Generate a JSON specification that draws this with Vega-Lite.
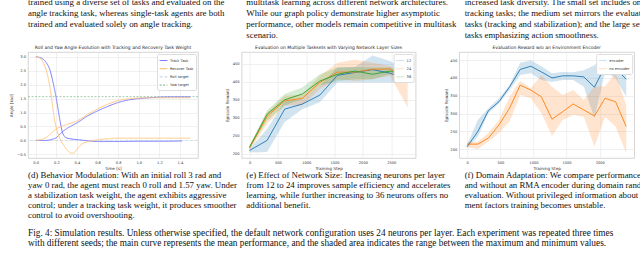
{
  "$schema": "https://vega.github.io/schema/vega-lite/v6.json",
  "background": "white",
  "padding": 0,
  "bounds": "full",
  "align": "none",
  "spacing": 0,
  "config": {
    "view": {"stroke": null},
    "axis": {"domain": false, "ticks": false, "grid": true, "gridColor": "#e6e6e6", "gridWidth": 0.6, "labelFont": "DejaVu Sans", "labelFontSize": 3.6, "labelColor": "#333333", "titleFont": "DejaVu Sans", "titleFontSize": 4.2, "titleFontWeight": "normal", "titleColor": "#333333", "labelPadding": 2.5, "titlePadding": 2, "labelFlush": false, "labelOverlap": false},
    "axisY": {"minExtent": 27, "maxExtent": 27, "titleBaseline": "middle"},
    "title": {"font": "DejaVu Sans", "fontSize": 4.5, "fontWeight": "normal", "color": "#262626", "offset": 2.5},
    "legend": {"orient": "top-right", "offset": 2, "labelFont": "DejaVu Sans", "labelFontSize": 3.6, "labelColor": "#333333", "symbolType": "stroke", "symbolSize": 60, "symbolStrokeWidth": 1.2, "padding": 2, "rowPadding": 1.2, "labelOffset": 2, "fillColor": "white", "strokeColor": "#dddddd", "cornerRadius": 1.5}
  },
  "datasets": {
    "top": [
      {"col": "a", "line": 0, "text": "trained using a diverse set of tasks and evaluated on the"},
      {"col": "a", "line": 1, "text": "angle tracking task, whereas single-task agents are both"},
      {"col": "a", "line": 2, "text": "trained and evaluated solely on angle tracking."},
      {"col": "b", "line": 0, "text": "multitask learning across different network architectures."},
      {"col": "b", "line": 1, "text": "While our graph policy demonstrate higher asymptotic"},
      {"col": "b", "line": 2, "text": "performance, other models remain competitive in multitask"},
      {"col": "b", "line": 3, "text": "scenario."},
      {"col": "c", "line": 0, "text": "increased task diversity. The small set includes only"},
      {"col": "c", "line": 1, "text": "tracking tasks; the medium set mirrors the evaluation"},
      {"col": "c", "line": 2, "text": "tasks (tracking and stabilization); and the large set adds"},
      {"col": "c", "line": 3, "text": "tasks emphasizing action smoothness."}
    ],
    "cap": [
      {"col": "a", "line": 0, "text": "(d) Behavior Modulation: With an initial roll 3 rad and"},
      {"col": "a", "line": 1, "text": "yaw 0 rad, the agent must reach 0 roll and 1.57 yaw. Under"},
      {"col": "a", "line": 2, "text": "a stabilization task weight, the agent exhibits aggressive"},
      {"col": "a", "line": 3, "text": "control; under a tracking task weight, it produces smoother"},
      {"col": "a", "line": 4, "text": "control to avoid overshooting."},
      {"col": "b", "line": 0, "text": "(e) Effect of Network Size: Increasing neurons per layer"},
      {"col": "b", "line": 1, "text": "from 12 to 24 improves sample efficiency and accelerates"},
      {"col": "b", "line": 2, "text": "learning, while further increasing to 36 neurons offers no"},
      {"col": "b", "line": 3, "text": "additional benefit."},
      {"col": "c", "line": 0, "text": "(f) Domain Adaptation: We compare performance with"},
      {"col": "c", "line": 1, "text": "and without an RMA encoder during domain randomized"},
      {"col": "c", "line": 2, "text": "evaluation. Without privileged information about environ-"},
      {"col": "c", "line": 3, "text": "ment factors training becomes unstable."}
    ],
    "fig": [
      {"col": "a", "line": 0, "text": "Fig. 4: Simulation results. Unless otherwise specified, the default network configuration uses 24 neurons per layer. Each experiment was repeated three times"},
      {"col": "a", "line": 1, "text": "with different seeds; the main curve represents the mean performance, and the shaded area indicates the range between the maximum and minimum values."}
    ],
    "dt": [
      {"s": "Roll target", "v": 0},
      {"s": "Yaw target", "v": 1.57}
    ],
    "d": [
      {"s": "Track Task", "a": "roll", "t": 0, "v": 3.0},
      {"s": "Track Task", "a": "roll", "t": 0.05, "v": 2.96},
      {"s": "Track Task", "a": "roll", "t": 0.1, "v": 2.8},
      {"s": "Track Task", "a": "roll", "t": 0.14, "v": 2.5},
      {"s": "Track Task", "a": "roll", "t": 0.17, "v": 2.05},
      {"s": "Track Task", "a": "roll", "t": 0.2, "v": 1.5},
      {"s": "Track Task", "a": "roll", "t": 0.22, "v": 1.05},
      {"s": "Track Task", "a": "roll", "t": 0.24, "v": 0.62},
      {"s": "Track Task", "a": "roll", "t": 0.26, "v": 0.28},
      {"s": "Track Task", "a": "roll", "t": 0.28, "v": 0.14},
      {"s": "Track Task", "a": "roll", "t": 0.3, "v": 0.09},
      {"s": "Track Task", "a": "roll", "t": 0.35, "v": 0.05},
      {"s": "Track Task", "a": "roll", "t": 0.4, "v": 0.03},
      {"s": "Track Task", "a": "roll", "t": 0.5, "v": -0.01},
      {"s": "Track Task", "a": "roll", "t": 0.6, "v": -0.04},
      {"s": "Track Task", "a": "roll", "t": 0.8, "v": -0.04},
      {"s": "Track Task", "a": "roll", "t": 1.0, "v": -0.03},
      {"s": "Track Task", "a": "roll", "t": 1.2, "v": -0.03},
      {"s": "Track Task", "a": "roll", "t": 1.42, "v": -0.02},
      {"s": "Track Task", "a": "yaw", "t": 0, "v": 0.0},
      {"s": "Track Task", "a": "yaw", "t": 0.1, "v": 0.0},
      {"s": "Track Task", "a": "yaw", "t": 0.15, "v": 0.03},
      {"s": "Track Task", "a": "yaw", "t": 0.2, "v": 0.1},
      {"s": "Track Task", "a": "yaw", "t": 0.25, "v": 0.28},
      {"s": "Track Task", "a": "yaw", "t": 0.3, "v": 0.42},
      {"s": "Track Task", "a": "yaw", "t": 0.35, "v": 0.53},
      {"s": "Track Task", "a": "yaw", "t": 0.4, "v": 0.63},
      {"s": "Track Task", "a": "yaw", "t": 0.5, "v": 0.87},
      {"s": "Track Task", "a": "yaw", "t": 0.6, "v": 1.06},
      {"s": "Track Task", "a": "yaw", "t": 0.7, "v": 1.22},
      {"s": "Track Task", "a": "yaw", "t": 0.8, "v": 1.36},
      {"s": "Track Task", "a": "yaw", "t": 0.9, "v": 1.45},
      {"s": "Track Task", "a": "yaw", "t": 1.0, "v": 1.5},
      {"s": "Track Task", "a": "yaw", "t": 1.1, "v": 1.53},
      {"s": "Track Task", "a": "yaw", "t": 1.2, "v": 1.55},
      {"s": "Track Task", "a": "yaw", "t": 1.35, "v": 1.56},
      {"s": "Track Task", "a": "yaw", "t": 1.5, "v": 1.56},
      {"s": "Recover Task", "a": "roll", "t": 0, "v": 3.0},
      {"s": "Recover Task", "a": "roll", "t": 0.05, "v": 2.92},
      {"s": "Recover Task", "a": "roll", "t": 0.09, "v": 2.65},
      {"s": "Recover Task", "a": "roll", "t": 0.12, "v": 2.25},
      {"s": "Recover Task", "a": "roll", "t": 0.14, "v": 1.85},
      {"s": "Recover Task", "a": "roll", "t": 0.16, "v": 1.35},
      {"s": "Recover Task", "a": "roll", "t": 0.18, "v": 0.8},
      {"s": "Recover Task", "a": "roll", "t": 0.2, "v": 0.45},
      {"s": "Recover Task", "a": "roll", "t": 0.22, "v": 0.2},
      {"s": "Recover Task", "a": "roll", "t": 0.25, "v": -0.05},
      {"s": "Recover Task", "a": "roll", "t": 0.28, "v": -0.22},
      {"s": "Recover Task", "a": "roll", "t": 0.31, "v": -0.36},
      {"s": "Recover Task", "a": "roll", "t": 0.34, "v": -0.45},
      {"s": "Recover Task", "a": "roll", "t": 0.36, "v": -0.46},
      {"s": "Recover Task", "a": "roll", "t": 0.38, "v": -0.42},
      {"s": "Recover Task", "a": "roll", "t": 0.41, "v": -0.27},
      {"s": "Recover Task", "a": "roll", "t": 0.44, "v": -0.15},
      {"s": "Recover Task", "a": "roll", "t": 0.5, "v": -0.05},
      {"s": "Recover Task", "a": "roll", "t": 0.6, "v": 0.02},
      {"s": "Recover Task", "a": "roll", "t": 0.7, "v": 0.06},
      {"s": "Recover Task", "a": "roll", "t": 0.8, "v": 0.08},
      {"s": "Recover Task", "a": "roll", "t": 1.0, "v": 0.08},
      {"s": "Recover Task", "a": "roll", "t": 1.5, "v": 0.08},
      {"s": "Recover Task", "a": "yaw", "t": 0, "v": 0.0},
      {"s": "Recover Task", "a": "yaw", "t": 0.05, "v": 0.03},
      {"s": "Recover Task", "a": "yaw", "t": 0.1, "v": 0.1},
      {"s": "Recover Task", "a": "yaw", "t": 0.15, "v": 0.26},
      {"s": "Recover Task", "a": "yaw", "t": 0.2, "v": 0.42},
      {"s": "Recover Task", "a": "yaw", "t": 0.25, "v": 0.5},
      {"s": "Recover Task", "a": "yaw", "t": 0.3, "v": 0.57},
      {"s": "Recover Task", "a": "yaw", "t": 0.35, "v": 0.63},
      {"s": "Recover Task", "a": "yaw", "t": 0.4, "v": 0.7},
      {"s": "Recover Task", "a": "yaw", "t": 0.5, "v": 0.92},
      {"s": "Recover Task", "a": "yaw", "t": 0.6, "v": 1.13},
      {"s": "Recover Task", "a": "yaw", "t": 0.7, "v": 1.3},
      {"s": "Recover Task", "a": "yaw", "t": 0.8, "v": 1.43},
      {"s": "Recover Task", "a": "yaw", "t": 0.9, "v": 1.49},
      {"s": "Recover Task", "a": "yaw", "t": 1.0, "v": 1.52},
      {"s": "Recover Task", "a": "yaw", "t": 1.2, "v": 1.53},
      {"s": "Recover Task", "a": "yaw", "t": 1.5, "v": 1.53}
    ],
    "e": [
      {"step": 0, "size": "12", "mean": 209, "lo": 203, "hi": 214},
      {"step": 310, "size": "12", "mean": 237, "lo": 205, "hi": 269},
      {"step": 620, "size": "12", "mean": 324, "lo": 288, "hi": 345},
      {"step": 930, "size": "12", "mean": 338, "lo": 324, "hi": 352},
      {"step": 1240, "size": "12", "mean": 363, "lo": 343, "hi": 389},
      {"step": 1550, "size": "12", "mean": 418, "lo": 398, "hi": 440},
      {"step": 1860, "size": "12", "mean": 426, "lo": 398, "hi": 441},
      {"step": 2170, "size": "12", "mean": 434, "lo": 398, "hi": 473},
      {"step": 2480, "size": "12", "mean": 424, "lo": 398, "hi": 458},
      {"step": 2790, "size": "12", "mean": 405, "lo": 398, "hi": 426},
      {"step": 0, "size": "24", "mean": 216, "lo": 210, "hi": 222},
      {"step": 310, "size": "24", "mean": 304, "lo": 283, "hi": 315},
      {"step": 620, "size": "24", "mean": 347, "lo": 334, "hi": 361},
      {"step": 930, "size": "24", "mean": 354, "lo": 334, "hi": 364},
      {"step": 1240, "size": "24", "mean": 398, "lo": 380, "hi": 416},
      {"step": 1550, "size": "24", "mean": 427, "lo": 407, "hi": 453},
      {"step": 1860, "size": "24", "mean": 427, "lo": 402, "hi": 462},
      {"step": 2170, "size": "24", "mean": 435, "lo": 407, "hi": 453},
      {"step": 2480, "size": "24", "mean": 436, "lo": 416, "hi": 444},
      {"step": 2790, "size": "24", "mean": 405, "lo": 329, "hi": 416},
      {"step": 0, "size": "36", "mean": 218, "lo": 214, "hi": 222},
      {"step": 310, "size": "36", "mean": 310, "lo": 292, "hi": 320},
      {"step": 620, "size": "36", "mean": 350, "lo": 334, "hi": 366},
      {"step": 930, "size": "36", "mean": 366, "lo": 352, "hi": 384},
      {"step": 1240, "size": "36", "mean": 402, "lo": 389, "hi": 421},
      {"step": 1550, "size": "36", "mean": 421, "lo": 402, "hi": 440},
      {"step": 1860, "size": "36", "mean": 430, "lo": 407, "hi": 441},
      {"step": 2170, "size": "36", "mean": 421, "lo": 407, "hi": 440},
      {"step": 2480, "size": "36", "mean": 430, "lo": 421, "hi": 440},
      {"step": 2790, "size": "36", "mean": 416, "lo": 407, "hi": 426}
    ],
    "f": [
      {"step": 0, "m": "encoder", "mean": 207, "lo": 203, "hi": 212},
      {"step": 160, "m": "encoder", "mean": 249, "lo": 235, "hi": 282},
      {"step": 320, "m": "encoder", "mean": 308, "lo": 301, "hi": 315},
      {"step": 480, "m": "encoder", "mean": 333, "lo": 329, "hi": 343},
      {"step": 640, "m": "encoder", "mean": 375, "lo": 366, "hi": 380},
      {"step": 800, "m": "encoder", "mean": 424, "lo": 408, "hi": 443},
      {"step": 960, "m": "encoder", "mean": 433, "lo": 413, "hi": 450},
      {"step": 1120, "m": "encoder", "mean": 417, "lo": 394, "hi": 433},
      {"step": 1280, "m": "encoder", "mean": 400, "lo": 389, "hi": 413},
      {"step": 1440, "m": "encoder", "mean": 406, "lo": 394, "hi": 417},
      {"step": 1600, "m": "encoder", "mean": 406, "lo": 394, "hi": 416},
      {"step": 1760, "m": "encoder", "mean": 403, "lo": 375, "hi": 422},
      {"step": 1920, "m": "encoder", "mean": 374, "lo": 287, "hi": 436},
      {"step": 2080, "m": "encoder", "mean": 433, "lo": 417, "hi": 459},
      {"step": 2240, "m": "encoder", "mean": 427, "lo": 399, "hi": 445},
      {"step": 2400, "m": "encoder", "mean": 396, "lo": 347, "hi": 441},
      {"step": 0, "m": "no encoder", "mean": 214, "lo": 205, "hi": 221},
      {"step": 160, "m": "no encoder", "mean": 214, "lo": 200, "hi": 221},
      {"step": 320, "m": "no encoder", "mean": 231, "lo": 221, "hi": 245},
      {"step": 480, "m": "no encoder", "mean": 268, "lo": 245, "hi": 282},
      {"step": 640, "m": "no encoder", "mean": 315, "lo": 277, "hi": 347},
      {"step": 800, "m": "no encoder", "mean": 380, "lo": 352, "hi": 392},
      {"step": 960, "m": "no encoder", "mean": 366, "lo": 343, "hi": 371},
      {"step": 1120, "m": "no encoder", "mean": 347, "lo": 301, "hi": 408},
      {"step": 1280, "m": "no encoder", "mean": 284, "lo": 237, "hi": 375},
      {"step": 1440, "m": "no encoder", "mean": 305, "lo": 282, "hi": 352},
      {"step": 1600, "m": "no encoder", "mean": 327, "lo": 296, "hi": 366},
      {"step": 1760, "m": "no encoder", "mean": 310, "lo": 291, "hi": 338},
      {"step": 1920, "m": "no encoder", "mean": 293, "lo": 207, "hi": 375},
      {"step": 2080, "m": "no encoder", "mean": 343, "lo": 291, "hi": 377},
      {"step": 2240, "m": "no encoder", "mean": 333, "lo": 263, "hi": 414},
      {"step": 2400, "m": "no encoder", "mean": 263, "lo": 189, "hi": 324}
    ]
  },
  "vconcat": [
    {
      "width": 655,
      "height": 44,
      "data": {"name": "top"},
      "mark": {"type": "text", "align": "left", "baseline": "middle", "font": "Liberation Serif", "fontSize": 8.85, "color": "#111111", "clip": true},
      "encoding": {
        "x": {"field": "col", "type": "ordinal", "scale": {"type": "band", "paddingInner": 0, "paddingOuter": 0}, "bandPosition": 0, "axis": null},
        "y": {"field": "line", "type": "quantitative", "scale": {"domain": [-0.1545, 3.8455], "reverse": true}, "axis": null},
        "text": {"field": "text"}
      }
    },
    {
      "bounds": "flush",
      "spacing": 43.6,
      "resolve": {"scale": {"color": "independent", "strokeDash": "independent"}, "legend": {"color": "independent", "strokeDash": "independent"}},
      "hconcat": [
        {
          "width": 170,
          "height": 106,
          "view": {"stroke": "#cccccc", "strokeWidth": 0.8},
          "title": "Roll and Yaw Angle Evolution with Tracking and Recovery Task Weight",
          "layer": [
            {
              "data": {"name": "dt"},
              "mark": {"type": "rule", "strokeWidth": 0.8},
              "encoding": {
                "y": {"field": "v", "type": "quantitative", "title": "Angle [rad]", "scale": {"domain": [-0.63, 3.17], "nice": false, "zero": false}, "axis": {"values": [-0.5, 0, 0.5, 1, 1.5, 2, 2.5, 3], "format": ".1f", "titleX": -17}},
                "color": {"field": "s", "type": "nominal", "scale": {"domain": ["Track Task", "Recover Task", "Roll target", "Yaw target"], "range": ["#7b7bff", "#ffc880", "#c6dbef", "#8fbf9a"]}, "legend": {"title": null}},
                "strokeDash": {"field": "s", "type": "nominal", "scale": {"domain": ["Track Task", "Recover Task", "Roll target", "Yaw target"], "range": [[1, 0], [1, 0], [3, 2], [2, 1.5]]}, "legend": {"title": null}}
              }
            },
            {
              "data": {"name": "d"},
              "mark": {"type": "line", "strokeWidth": 1, "interpolate": "monotone"},
              "encoding": {
                "x": {"field": "t", "type": "quantitative", "title": "time [s]", "scale": {"domain": [-0.075, 1.575], "nice": false, "zero": false}, "axis": {"values": [0, 0.2, 0.4, 0.6, 0.8, 1, 1.2, 1.4], "format": ".1f"}},
                "y": {"field": "v", "type": "quantitative", "title": "Angle [rad]", "scale": {"domain": [-0.63, 3.17], "nice": false, "zero": false}, "axis": {"values": [-0.5, 0, 0.5, 1, 1.5, 2, 2.5, 3], "format": ".1f", "titleX": -17}},
                "color": {"field": "s", "type": "nominal", "scale": {"domain": ["Track Task", "Recover Task", "Roll target", "Yaw target"], "range": ["#7b7bff", "#ffc880", "#c6dbef", "#8fbf9a"]}, "legend": {"title": null}},
                "strokeDash": {"field": "s", "type": "nominal", "scale": {"domain": ["Track Task", "Recover Task", "Roll target", "Yaw target"], "range": [[1, 0], [1, 0], [3, 2], [2, 1.5]]}, "legend": {"title": null}},
                "detail": {"field": "a"}
              }
            }
          ]
        },
        {
          "width": 174,
          "height": 106,
          "view": {"stroke": "#cccccc", "strokeWidth": 0.8},
          "title": "Evaluation on Multiple Tasksets with Varying Network Layer Sizes",
          "data": {"name": "e"},
          "encoding": {
            "x": {"field": "step", "type": "quantitative", "title": "Training Step", "scale": {"domain": [-140, 2930], "nice": false, "zero": false}, "axis": {"values": [0, 500, 1000, 1500, 2000, 2500], "format": "d"}},
            "color": {"field": "size", "type": "nominal", "scale": {"domain": ["12", "24", "36"], "range": ["#1f77b4", "#ff7f0e", "#2ca02c"]}, "legend": {"title": null}}
          },
          "layer": [
            {
              "mark": {"type": "area", "opacity": 0.2},
              "encoding": {
                "y": {"field": "lo", "type": "quantitative", "title": "Episode Reward", "scale": {"domain": [188, 483], "nice": false, "zero": false}, "axis": {"values": [200, 250, 300, 350, 400, 450], "titleX": -14}},
                "y2": {"field": "hi"}
              }
            },
            {
              "mark": {"type": "line", "strokeWidth": 0.9},
              "encoding": {
                "y": {"field": "mean", "type": "quantitative", "title": "Episode Reward", "scale": {"domain": [188, 483], "nice": false, "zero": false}, "axis": {"values": [200, 250, 300, 350, 400, 450], "titleX": -14}}
              }
            }
          ]
        },
        {
          "width": 175,
          "height": 106,
          "view": {"stroke": "#cccccc", "strokeWidth": 0.8},
          "title": "Evaluation Reward w/o an Environment Encoder",
          "data": {"name": "f"},
          "encoding": {
            "x": {"field": "step", "type": "quantitative", "title": "Training Step", "scale": {"domain": [-120, 2520], "nice": false, "zero": false}, "axis": {"values": [0, 500, 1000, 1500, 2000], "format": "d"}},
            "color": {"field": "m", "type": "nominal", "scale": {"domain": ["encoder", "no encoder"], "range": ["#1f77b4", "#ff7f0e"]}, "legend": {"title": null}}
          },
          "layer": [
            {
              "mark": {"type": "area", "opacity": 0.2},
              "encoding": {
                "y": {"field": "lo", "type": "quantitative", "title": "Episode Reward", "scale": {"domain": [175, 473], "nice": false, "zero": false}, "axis": {"values": [200, 250, 300, 350, 400, 450], "titleX": -12.6}},
                "y2": {"field": "hi"}
              }
            },
            {
              "mark": {"type": "line", "strokeWidth": 0.9},
              "encoding": {
                "y": {"field": "mean", "type": "quantitative", "title": "Episode Reward", "scale": {"domain": [175, 473], "nice": false, "zero": false}, "axis": {"values": [200, 250, 300, 350, 400, 450], "titleX": -12.6}}
              }
            }
          ]
        }
      ]
    },
    {
      "width": 655,
      "height": 57,
      "data": {"name": "cap"},
      "mark": {"type": "text", "align": "left", "baseline": "middle", "font": "Liberation Serif", "fontSize": 8.85, "color": "#111111"},
      "encoding": {
        "x": {"field": "col", "type": "ordinal", "scale": {"type": "band", "paddingInner": 0, "paddingOuter": 0}, "bandPosition": 0, "axis": null},
        "y": {"field": "line", "type": "quantitative", "scale": {"domain": [-0.44, 5.26], "reverse": true}, "axis": null},
        "text": {"field": "text"}
      }
    },
    {
      "width": 640,
      "height": 26,
      "data": {"name": "fig"},
      "mark": {"type": "text", "align": "left", "baseline": "middle", "font": "Liberation Serif", "fontSize": 9.3, "color": "#111111"},
      "encoding": {
        "x": {"field": "col", "type": "ordinal", "scale": {"type": "band", "paddingInner": 0, "paddingOuter": 0}, "bandPosition": 0, "axis": null},
        "y": {"field": "line", "type": "quantitative", "scale": {"domain": [-0.5, 2.1], "reverse": true}, "axis": null},
        "text": {"field": "text"}
      }
    }
  ]
}
